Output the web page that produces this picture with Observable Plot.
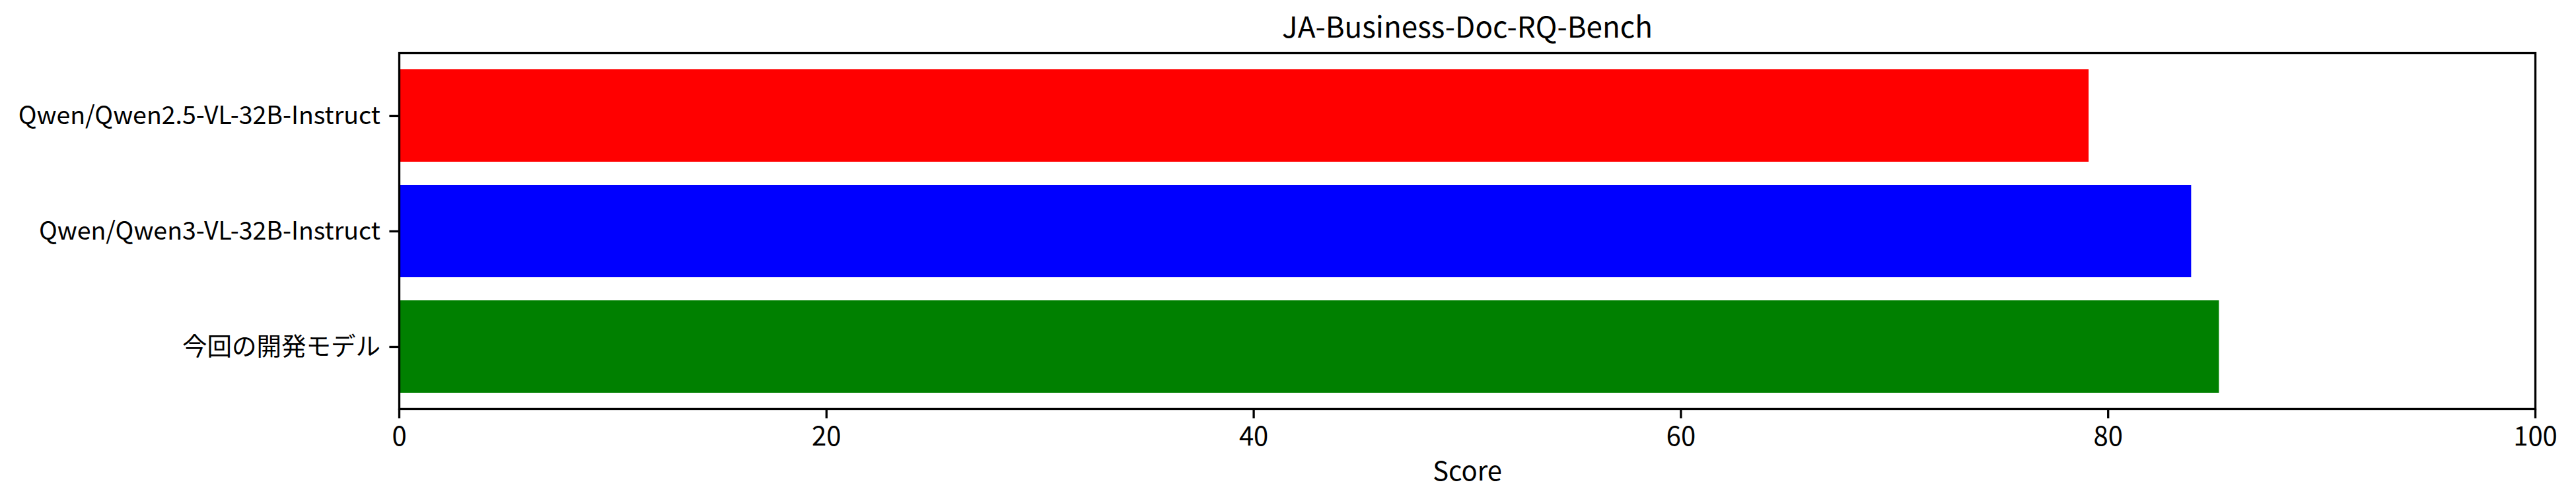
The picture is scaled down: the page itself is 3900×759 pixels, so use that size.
<!DOCTYPE html>
<html>
<head>
<meta charset="utf-8">
<script src="https://cdn.jsdelivr.net/npm/d3@7"></script>
<script src="https://cdn.jsdelivr.net/npm/@observablehq/plot@0.6"></script>
<style>
  html, body { margin: 0; padding: 0; background: #fff; }
  svg { display: block; }
</style>
</head>
<body>
<div id="chart"></div>
<script>
const title = "JA-Business-Doc-RQ-Bench";
const models = ["Qwen/Qwen2.5-VL-32B-Instruct", "Qwen/Qwen3-VL-32B-Instruct", "今回の開発モデル"];
const scores = [79.1, 83.9, 85.2];
const barColors = ["red", "blue", "green"];
const xTicks = [0, 20, 40, 60, 80, 100];
const xLabel = "Score";

const data = models.map((m, i) => ({model: m, score: scores[i]}));

const font = "'Noto Sans CJK JP', 'Noto Sans', sans-serif";

const chart = Plot.plot({
  width: 3900,
  height: 759,
  marginLeft: 604,
  marginRight: 62,
  marginTop: 80,
  marginBottom: 140,
  style: {fontFamily: font, fontSize: "38px", color: "black", background: "white"},
  x: {domain: [0, 100]},
  y: {domain: models, paddingInner: 0.2, paddingOuter: 0.14},
  color: {domain: models, range: barColors},
  marks: [
    Plot.barX(data, {x: "score", y: "model", fill: "model"}),
    Plot.frame({stroke: "black", strokeWidth: 3.3}),
    Plot.axisX({ticks: xTicks, tickSize: 14.6, tickPadding: 12, strokeWidth: 3.3, fontSize: 40,
                label: xLabel, labelAnchor: "center", labelArrow: "none", labelOffset: 108}),
    Plot.axisY({tickSize: 14.6, tickPadding: 14, strokeWidth: 3.3, fontSize: 37.5, label: null}),
    Plot.text([title], {frameAnchor: "top", dy: -38, fontSize: 44, lineAnchor: "middle"})
  ]
});
document.getElementById("chart").appendChild(chart);
</script>
</body>
</html>
